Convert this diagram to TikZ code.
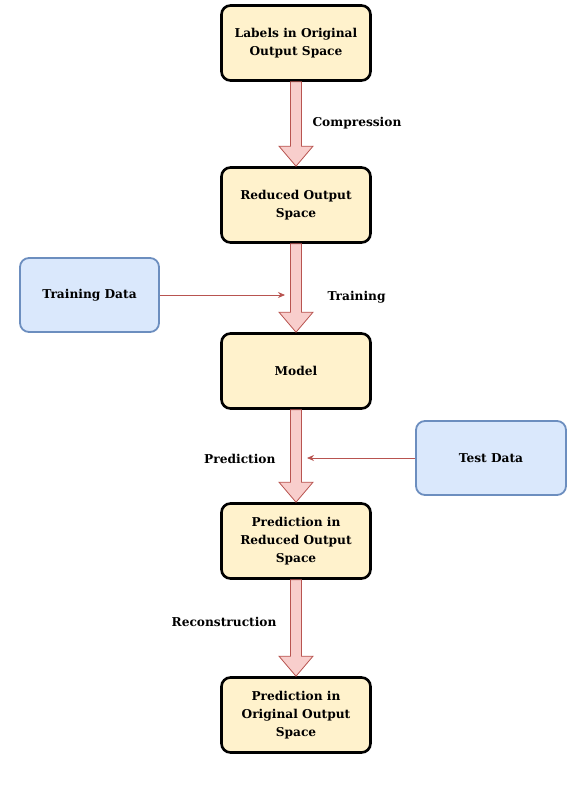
\documentclass[tikz,border=0pt]{standalone}
\usepackage{fontspec}
\setmainfont{DejaVu Serif}
\usetikzlibrary{arrows.meta,calc}

\definecolor{stepfill}{HTML}{FFF2CC}
\definecolor{datafill}{HTML}{DAE8FC}
\definecolor{dataline}{HTML}{6C8EBF}
\definecolor{flowfill}{HTML}{F8CECC}
\definecolor{flowline}{HTML}{B85450}

% fat arrow from the bottom of one box to the top of the next
\newcommand{\fatarrow}[2]{%
  \path let \p1=(#1.south), \p2=(#2.north) in
    [bigarrow] (\x1-5.5pt,\y1) -- (\x1-5.5pt,\y2+20pt) -- (\x1-17pt,\y2+20pt)
    -- (\x1,\y2) -- (\x1+17pt,\y2+20pt) -- (\x1+5.5pt,\y2+20pt)
    -- (\x1+5.5pt,\y1) -- cycle;}

\begin{document}
\begin{tikzpicture}[
    x=1pt, y=-1pt,
    font=\bfseries\fontsize{12.2}{18}\selectfont,
    stage/.style={
        rectangle,
        rounded corners=9pt,
        draw=black,
        line width=2.6pt,
        fill=stepfill,
        align=center,
        minimum width=149pt,
        minimum height=75pt,
        inner sep=2pt
    },
    data/.style={
        rectangle,
        rounded corners=9pt,
        draw=dataline,
        line width=1.8pt,
        fill=datafill,
        align=center,
        inner sep=2pt
    },
    bigarrow/.style={draw=flowline, fill=flowfill, line width=0.8pt, line join=miter},
    feed/.style={-{Stealth[length=7pt,width=6pt]}, draw=flowline, line width=0.8pt}
]
\useasboundingbox (0,0) rectangle (572,792);

% =========================================================
% Main flow
% =========================================================
\node[stage] (labels) at (296,43) {Labels in Original\\Output Space};
\node[stage] (reduced) at (296,205) {Reduced Output\\Space};
\node[stage] (model) at (296,371) {Model};
\node[stage] (predred) at (296,541) {Prediction in\\Reduced Output\\Space};
\node[stage] (predorig) at (296,715) {Prediction in\\Original Output\\Space};

% Data sources
\node[data, minimum width=139pt, minimum height=74pt] (train) at (89.5,295) {Training Data};
\node[data, minimum width=150pt, minimum height=74pt] (test) at (491,458) {Test Data};

% =========================================================
% Arrows
% =========================================================
\fatarrow{labels}{reduced}
\fatarrow{reduced}{model}
\fatarrow{model}{predred}
\fatarrow{predred}{predorig}

\coordinate (trainend) at (285,295);
\coordinate (testend) at (307,458);
\draw[feed] (train.east) -- (trainend);
\draw[feed] (test.west) -- (testend);

% Labels
\node[anchor=west] (compr) at (309,123) {Compression};
\node[anchor=west] (trainlbl) at (324,297) {Training};
\node[anchor=east] (predlbl) at (279,459) {Prediction};
\node[anchor=east] (recon) at (280,622) {Reconstruction};

\end{tikzpicture}
\end{document}
